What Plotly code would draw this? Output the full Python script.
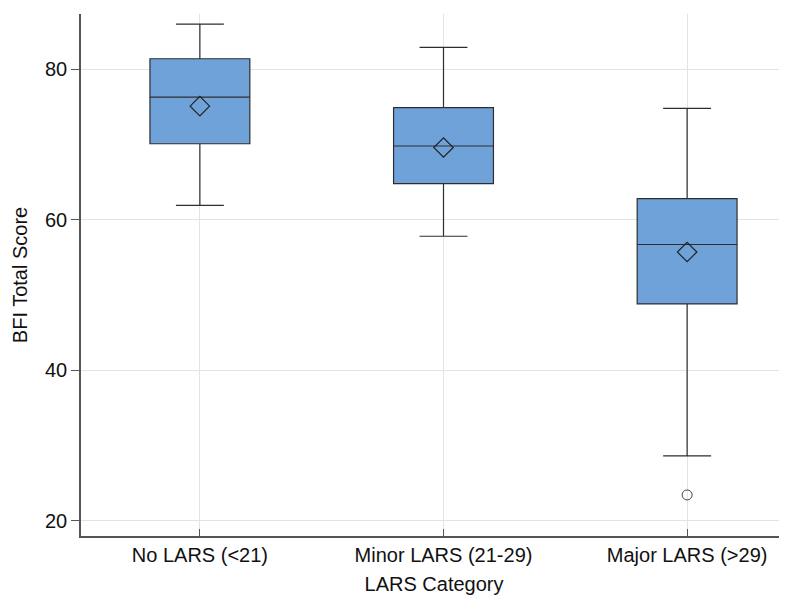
import plotly.graph_objects as go

categories = ["No LARS (<21)", "Minor LARS (21-29)", "Major LARS (>29)"]
lower_whisker = [61.9, 57.8, 28.6]
q1_vals = [70.1, 64.8, 48.8]
median_vals = [76.3, 69.8, 56.7]
q3_vals = [81.4, 74.9, 62.8]
upper_whisker = [86.0, 82.9, 74.8]
mean_vals = [75.1, 69.6, 55.7]
outlier_cats = ["Major LARS (>29)"]
outlier_vals = [23.4]

FONT = "Liberation Sans, Arial, Helvetica, sans-serif"
BOX_FILL = "#70a2da"
LINE = "#2e2e2e"

fig = go.Figure()
fig.add_trace(go.Box(
    x=categories,
    q1=q1_vals, median=median_vals, q3=q3_vals,
    lowerfence=lower_whisker, upperfence=upper_whisker,
    boxpoints=False,
    fillcolor=BOX_FILL,
    line=dict(color=LINE, width=1.2),
    width=0.41,
    whiskerwidth=0.48,
    showlegend=False,
    hoverinfo="skip",
))
fig.add_trace(go.Scatter(
    x=categories, y=mean_vals, mode="markers",
    marker=dict(symbol="diamond-open", size=15, color="#222222", line=dict(width=1.2)),
    showlegend=False,
))
fig.add_trace(go.Scatter(
    x=outlier_cats, y=outlier_vals, mode="markers",
    marker=dict(symbol="circle-open", size=10, color="#444444", line=dict(width=1)),
    showlegend=False,
))

# page body has an 8px margin, so the figure is sized to fit inside the window
fig.update_layout(
    width=779, height=593,
    margin=dict(l=73, r=0, t=6, b=65, autoexpand=False),
    paper_bgcolor="white", plot_bgcolor="white",
    font=dict(family=FONT, size=20, color="#111111"),
)
fig.update_xaxes(
    type="category",
    range=[-0.488, 2.41],
    showline=True, linecolor="#555555", linewidth=1.5,
    ticks="inside", ticklen=7, tickcolor="#555555",
    showgrid=True, gridcolor="#e3e3e3", gridwidth=1,
    tickfont=dict(size=20),
    title=dict(text="LARS Category", font=dict(size=20), standoff=12),
    zeroline=False, automargin=False,
)
fig.update_yaxes(
    range=[17.94, 87.35],
    tickvals=[20, 40, 60, 80],
    showline=True, linecolor="#555555", linewidth=1.5,
    ticks="outside", ticklen=8, tickcolor="#555555",
    showgrid=True, gridcolor="#e3e3e3", gridwidth=1,
    tickfont=dict(size=20),
    title=dict(text="BFI Total Score", font=dict(size=20), standoff=12),
    zeroline=False, automargin=False,
)

fig.write_html("out.html")
